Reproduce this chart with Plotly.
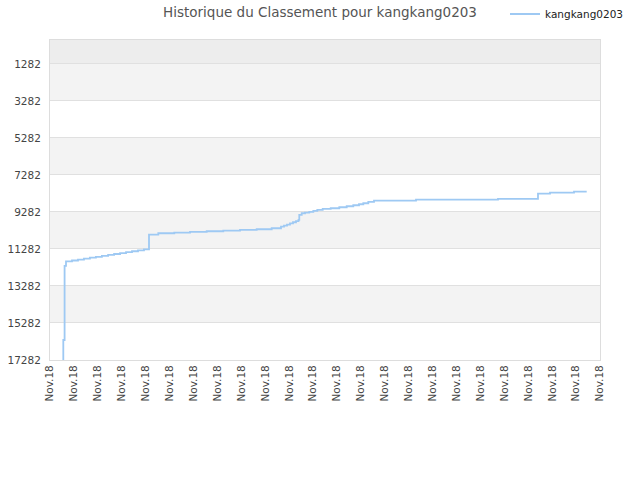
import plotly.graph_objects as go

# x positions in tick-index units (0 .. 23), y = ranking
x_pos = [0.540, 0.556, 0.610, 0.669, 0.920, 1.170, 1.420, 1.670, 1.920, 2.170, 2.430,
         2.680, 2.930, 3.180, 3.430, 3.680, 3.930, 4.140, 4.529, 5.198, 5.855, 6.553,
         7.247, 7.946, 8.644, 9.271, 9.660, 9.786, 9.911, 10.036, 10.162, 10.287,
         10.392, 10.425, 10.526, 10.664, 10.843, 11.011, 11.178, 11.404, 11.738,
         12.098, 12.407, 12.683, 12.922, 13.102, 13.311, 13.549, 15.306, 18.734,
         20.407, 20.909, 21.913, 22.444]
ranks = [17282, 16201, 12200, 11957, 11905, 11855, 11805, 11755, 11705, 11655, 11605,
         11555, 11505, 11455, 11405, 11355, 11305, 10508, 10433, 10400, 10362, 10325,
         10292, 10254, 10217, 10163, 10076, 10022, 9968, 9903, 9838, 9779,
         9714, 9444, 9352, 9319, 9281, 9227, 9173, 9119, 9081,
         9027, 8973, 8919, 8865, 8811, 8741, 8671, 8617, 8579,
         8292, 8238, 8184, 8184]

y_ticks = [1282, 3282, 5282, 7282, 9282, 11282, 13282, 15282, 17282]
y_labels = [str(v) for v in y_ticks]
x_ticks = list(range(24))
x_labels = ["Nov.18"] * 24
player = "kangkang0203"

fig = go.Figure()
fig.add_trace(go.Scatter(
    x=x_pos, y=ranks, mode="lines", name=player,
    line=dict(color="#9ec9f3", width=1.8, shape="hv"),
))

# alternating horizontal bands
shapes = []
y_top = -10
shapes.append(dict(type="rect", xref="paper", yref="y", x0=0, x1=1,
                   y0=y_top, y1=y_ticks[0], fillcolor="#ededed",
                   line=dict(width=0), layer="below"))
for k in range(len(y_ticks) - 1):
    if k % 2 == 0:
        shapes.append(dict(type="rect", xref="paper", yref="y", x0=0, x1=1,
                           y0=y_ticks[k], y1=y_ticks[k + 1], fillcolor="#f3f3f3",
                           line=dict(width=0), layer="below"))

fig.update_layout(
    width=640, height=480,
    margin=dict(l=50, r=40, t=40, b=120),
    paper_bgcolor="white", plot_bgcolor="white",
    font=dict(family="DejaVu Sans", color="#444444", size=10.5),
    title=dict(text="Historique du Classement pour " + player,
               x=0.5, xref="container", y=1 - 12 / 480, yref="container",
               yanchor="middle",
               font=dict(size=13.5, color="#555555")),
    showlegend=True,
    legend=dict(x=505 / 640, y=1 - 14 / 480, xref="container", yref="container",
                xanchor="left", yanchor="middle",
                orientation="h", font=dict(size=10.5, color="#222222"),
                bgcolor="rgba(0,0,0,0)"),
    shapes=shapes,
    xaxis=dict(range=[0, 23], tickvals=x_ticks, ticktext=x_labels,
               tickangle=-90, showgrid=False, zeroline=False,
               showline=True, linecolor="#dddddd", mirror=True,
               ticks="", automargin=False),
    yaxis=dict(range=[17282, y_top], tickvals=y_ticks, ticktext=y_labels,
               showgrid=True, gridcolor="#e0e0e0", gridwidth=1,
               zeroline=False, showline=True, linecolor="#dddddd", mirror=True,
               ticks="", ticklabelstandoff=6, automargin=False),
)

fig.write_html("out.html", config={"displayModeBar": False},
               post_script="document.body.style.margin='0';")
